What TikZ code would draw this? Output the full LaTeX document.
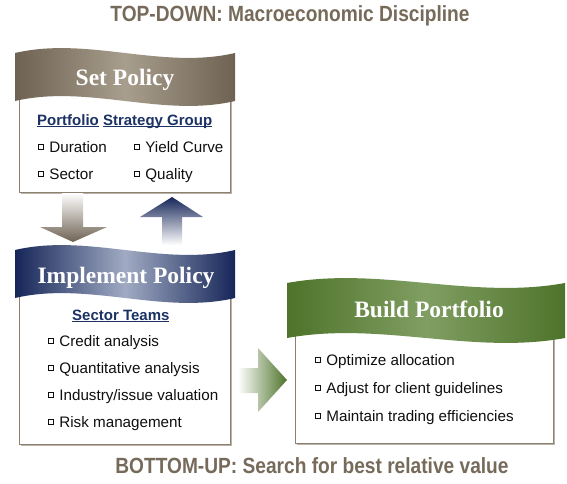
\documentclass[tikz,border=0pt]{standalone}
\usepackage{fontspec}
\setmainfont{Liberation Sans}
\newfontfamily\bannerfont{Liberation Serif}

\definecolor{setdark}{RGB}{110,98,82}
\definecolor{setlight}{RGB}{168,158,142}
\definecolor{impdark}{RGB}{22,38,88}
\definecolor{implight}{RGB}{160,170,195}
\definecolor{builddark}{RGB}{78,115,42}
\definecolor{buildlight}{RGB}{128,158,98}
\definecolor{boxline}{RGB}{140,128,112}
\definecolor{titlecol}{RGB}{118,106,90}
\definecolor{headcol}{RGB}{28,50,100}
\definecolor{bodytext}{RGB}{15,15,15}

\newcommand\bx{\raisebox{3pt}{\setlength\fboxsep{0pt}\setlength\fboxrule{0.7pt}\fbox{\rule{0pt}{4.3pt}\hspace{4.3pt}}}\hspace{5.5pt}}
\newcommand\undl[1]{\setbox0\hbox{#1}\rlap{\rule[-2.4pt]{\wd0}{1.3pt}}\box0}

\tikzset{
  panel/.style={draw=boxline,line width=1pt,fill=white},
  shadowline/.style={draw=boxline!60,line width=1.2pt},
  banner/.style={text=white,inner sep=0pt,anchor=base,font=\bannerfont\bfseries\fontsize{23.5}{28}\selectfont},
  heading/.style={text=headcol,inner sep=0pt,anchor=base west,font=\bfseries\fontsize{15}{18}\selectfont},
  item/.style={text=bodytext,inner sep=0pt,anchor=base west,font=\fontsize{15.2}{18}\selectfont},
  caption/.style={text=titlecol,inner sep=0pt,anchor=base,xscale=0.87,font=\bfseries\fontsize{22}{26}\selectfont}
}

\begin{document}
\begin{tikzpicture}[x=1pt,y=-1pt]
\useasboundingbox (0,0) rectangle (567,483);

\node[caption] (topdown) at (290,21) {TOP-DOWN: Macroeconomic Discipline};
\node[caption] (bottomup) at (312,473) {BOTTOM-UP: Search for best relative value};

\draw[shadowline] (21,193.5) -- (231.5,193.5) -- (231.5,100);
\draw[panel] (19,95) rectangle (230,192);
\draw[shadowline] (21,445.5) -- (231.5,445.5) -- (231.5,295);
\draw[panel] (19,290) rectangle (230,444);
\draw[shadowline] (297,444.5) -- (554.5,444.5) -- (554.5,335);
\draw[panel] (295,330) rectangle (553,443);

\shade[left color=setdark,right color=setdark,middle color=setlight]
  (15,53) .. controls (88,36) and (162,70) .. (235,53) -- (235,101)
  .. controls (162,118) and (88,84) .. (15,101) -- cycle;
\shade[left color=impdark,right color=impdark,middle color=implight]
  (15,250) .. controls (88,233) and (162,267) .. (235,250) -- (235,298)
  .. controls (162,315) and (88,281) .. (15,298) -- cycle;
\shade[left color=builddark,right color=builddark,middle color=buildlight]
  (287,283) .. controls (380,266) and (472,300) .. (565,283) -- (565,338)
  .. controls (472,355) and (380,321) .. (287,338) -- cycle;

\node[banner] (setpolicy) at (125,85) {Set Policy};
\node[banner] (implement) at (126,283) {Implement Policy};
\node[banner] (build) at (429,317) {Build Portfolio};

\node[heading] (psg) at (37,125) {\undl{Portfolio}\hspace{4.2pt}\undl{Strategy Group}};
\node[item] (duration) at (38,152) {\bx Duration};
\node[item] (yield) at (134,152) {\bx Yield Curve};
\node[item] (sector) at (38,179) {\bx Sector};
\node[item] (quality) at (134,179) {\bx Quality};

\node[heading] (teams) at (72,320) {\undl{Sector Teams}};
\node[item] (credit) at (48,346) {\bx Credit analysis};
\node[item] (quant) at (48,373) {\bx Quantitative analysis};
\node[item] (industry) at (48,400) {\bx Industry/issue valuation};
\node[item] (risk) at (48,427) {\bx Risk management};

\node[item] (optimize) at (315,365) {\bx Optimize allocation};
\node[item] (adjust) at (315,393) {\bx Adjust for client guidelines};
\node[item] (maintain) at (315,421) {\bx Maintain trading efficiencies};

\shade[top color=white,bottom color=setdark]
  (62,193) -- (83,193) -- (83,227) -- (107,227) -- (73,242) -- (40,227) -- (62,227) -- cycle;
\shade[top color=impdark,bottom color=white]
  (172,197) -- (203,217) -- (182,217) -- (182,245) -- (162,245) -- (162,217) -- (140,217) -- cycle;
\shade[left color=white,right color=builddark]
  (238,368) -- (258,368) -- (258,348) -- (287,380) -- (258,412) -- (258,393) -- (238,393) -- cycle;
\end{tikzpicture}
\end{document}
